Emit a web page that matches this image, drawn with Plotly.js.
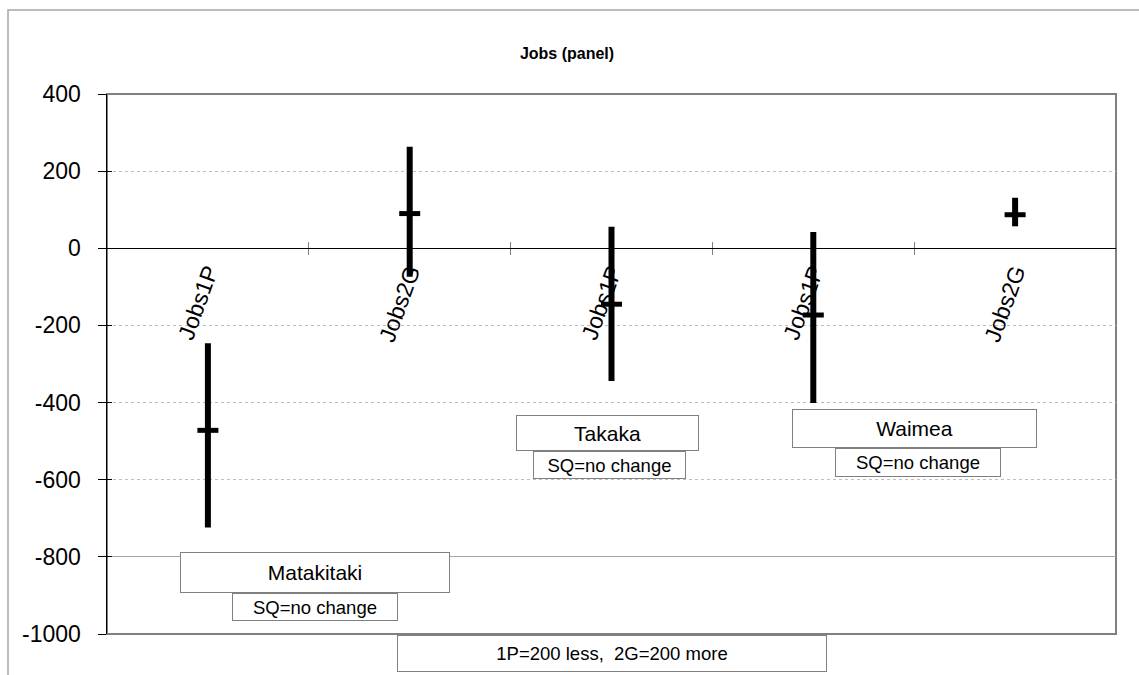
<!DOCTYPE html>
<html>
<head>
<meta charset="utf-8">
<script src="https://cdn.plot.ly/plotly-3.0.1.min.js"></script>
<style>html,body{margin:0;padding:0;background:#fff;}#chart{width:1139px;height:675px;}</style>
</head>
<body>
<div id="chart"></div>
<script>
// ---- data ----
const categories = ['Jobs1P', 'Jobs2G', 'Jobs1P', 'Jobs1P', 'Jobs2G'];
const estimate = [-472, 90, -145, -173, 87];
const upper = [-246, 263, 56, 42, 131];
const lower = [-724, -74, -344, -401, 57];
const yTickVals = [-1000, -800, -600, -400, -200, 0, 200, 400];
const yTickText = ['-1000', '-800', '-600', '-400', '-200', '0', '200', '400'];
const regions = ['Matakitaki', 'Takaka', 'Waimea'];
const sqLabel = 'SQ=no change';
const noteLabel = '1P=200 less,\u00A0 2G=200 more';
const titleText = 'Jobs (panel)';

// ---- layout geometry (pixels) ----
const W = 1139, H = 675;
const M = {l: 107, r: 23, t: 94, b: 41};
const pw = W - M.l - M.r, ph = H - M.t - M.b;
const px = x => (x - M.l) / pw;
const py = y => (H - M.b - y) / ph;
const FONT = 'Liberation Sans, Arial, sans-serif';

const xIdx = categories.map((_, i) => i);
const errPlus = upper.map((u, i) => u - estimate[i]);
const errMinus = lower.map((l, i) => estimate[i] - l);

const traces = [
  {
    type: 'scatter', mode: 'markers',
    x: xIdx, y: estimate,
    marker: {symbol: 'line-ew', size: 15, color: '#000', line: {color: '#000', width: 5}},
    error_y: {type: 'data', symmetric: false, array: errPlus, arrayminus: errMinus,
              color: '#000', thickness: 6, width: 0},
    hoverinfo: 'skip', showlegend: false, cliponaxis: false
  },
  {type: 'scatter', x: [], y: [], xaxis: 'x2', yaxis: 'y', showlegend: false},
  {type: 'scatter', x: [], y: [], xaxis: 'x3', yaxis: 'y', showlegend: false},
  {type: 'scatter', x: [], y: [], xaxis: 'x', yaxis: 'y2', showlegend: false},
  {type: 'scatter', x: [], y: [], xaxis: 'x', yaxis: 'y3', showlegend: false}
];

const zeroPos = (0 - yTickVals[0]) / (yTickVals[yTickVals.length - 1] - yTickVals[0]);
const xRange = [-0.5, categories.length - 0.5];
const yRange = [yTickVals[0], yTickVals[yTickVals.length - 1]];
const boundaries = xIdx.slice(0, -1).map(i => i + 0.5);

function box(text, x0, x1, y0, y1, size) {
  return {
    text: text, xref: 'paper', yref: 'paper',
    x: px((x0 + x1) / 2), y: py((y0 + y1) / 2),
    xanchor: 'center', yanchor: 'middle',
    width: (x1 - x0) - 2, height: (y1 - y0) - 2,
    showarrow: false, bgcolor: '#fff', bordercolor: '#808080',
    borderwidth: 1, borderpad: 0,
    font: {family: FONT, size: size, color: '#000'}
  };
}

const layout = {
  width: W, height: H,
  margin: M,
  paper_bgcolor: '#fff', plot_bgcolor: '#fff',
  showlegend: false,
  font: {family: FONT, color: '#000'},
  title: {text: '<b>' + titleText + '</b>', font: {family: FONT, size: 16, color: '#000'},
          xref: 'container', yref: 'container', x: 567 / W, y: 1 - 53 / H,
          xanchor: 'center', yanchor: 'middle'},
  xaxis: {
    range: xRange, anchor: 'free', position: zeroPos,
    tickmode: 'array', tickvals: xIdx, ticktext: categories,
    tickangle: -70, tickfont: {family: FONT, size: 23, color: '#000'},
    ticks: '', showgrid: false, zeroline: false,
    showline: true, linecolor: '#000', linewidth: 1, fixedrange: true
  },
  xaxis2: {
    range: xRange, overlaying: 'x', anchor: 'free', position: zeroPos,
    tickmode: 'array', tickvals: boundaries, ticks: 'outside', ticklen: 6,
    tickcolor: '#808080', tickwidth: 1, showticklabels: false,
    showgrid: false, zeroline: false, showline: false
  },
  xaxis3: {
    range: xRange, overlaying: 'x', anchor: 'free', position: zeroPos,
    tickmode: 'array', tickvals: boundaries, ticks: 'inside', ticklen: 6,
    tickcolor: '#808080', tickwidth: 1, showticklabels: false,
    showgrid: false, zeroline: false, showline: false
  },
  yaxis: {
    range: yRange, tickmode: 'array', tickvals: yTickVals, ticktext: yTickText,
    tickfont: {family: FONT, size: 23, color: '#000'},
    ticks: 'outside', ticklen: 8, tickcolor: '#000', tickwidth: 1,
    ticklabelstandoff: 12,
    showgrid: true, gridcolor: '#bdbdbd', griddash: 'dot', gridwidth: 1,
    zeroline: false, showline: true, linecolor: '#000', linewidth: 1.5, fixedrange: true
  },
  yaxis2: {
    range: yRange, overlaying: 'y', tickmode: 'array', tickvals: [yTickVals[1]],
    showticklabels: false, ticks: '', showgrid: true, gridcolor: '#a6a6a6',
    gridwidth: 1, zeroline: false, showline: false
  },
  yaxis3: {
    range: yRange, overlaying: 'y', tickmode: 'array', tickvals: yTickVals,
    showticklabels: false, ticks: 'inside', ticklen: 5, tickcolor: '#000',
    showgrid: false, zeroline: false, showline: false
  },
  shapes: [
    {type: 'rect', xref: 'paper', yref: 'paper', x0: 0, x1: 1, y0: 0, y1: 1,
     line: {color: '#808080', width: 2}, layer: 'below'},
    {type: 'rect', xref: 'paper', yref: 'paper', x0: px(8), x1: px(1150), y0: py(690), y1: py(10),
     line: {color: '#a6a6a6', width: 1.5}, layer: 'below'}
  ],
  annotations: [
    box(regions[0], 180, 450, 552, 593, 21),
    box(sqLabel, 232, 398, 593, 621, 18.5),
    box(regions[1], 516, 699, 415, 451, 21),
    box(sqLabel, 533, 686, 451, 479, 18.5),
    box(regions[2], 792, 1037, 409, 448, 21),
    box(sqLabel, 835, 1001, 448, 477, 18.5),
    box(noteLabel, 397, 827, 635, 672, 18.5)
  ]
};

Plotly.newPlot('chart', traces, layout, {displayModeBar: false, staticPlot: true});
</script>
</body>
</html>
